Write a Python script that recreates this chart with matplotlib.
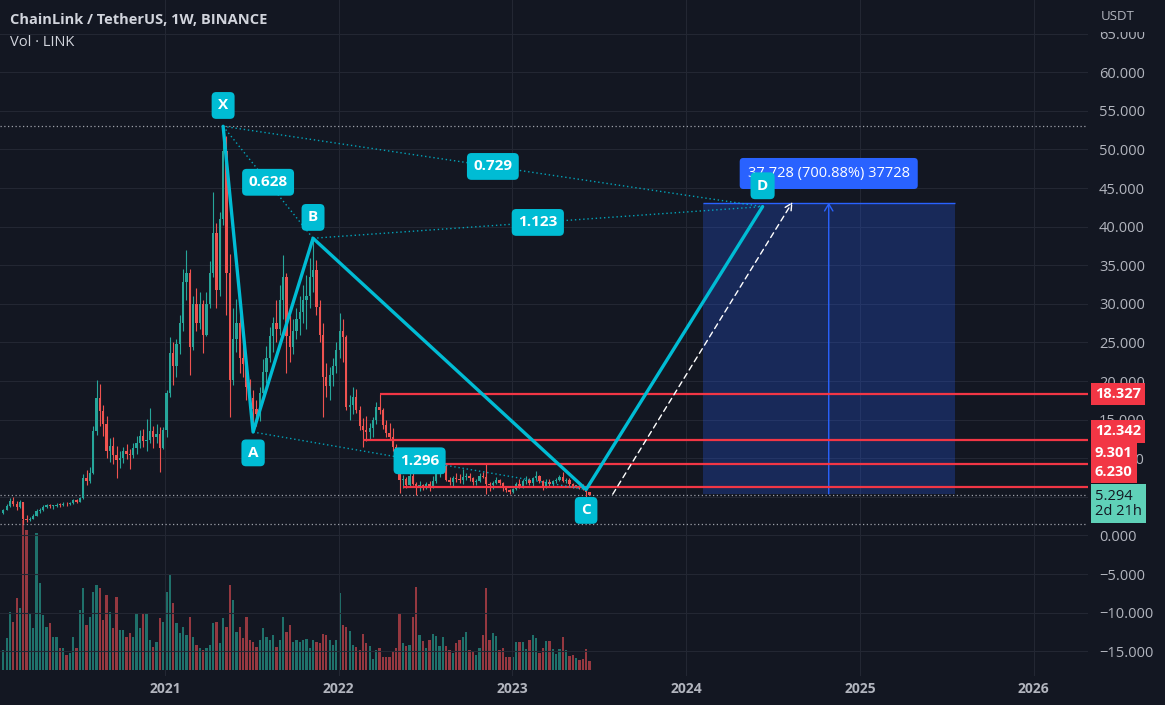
import matplotlib
matplotlib.use('Agg')
import matplotlib.pyplot as plt
import matplotlib.dates as mdates
from matplotlib.patches import Rectangle
from matplotlib.ticker import FuncFormatter
import numpy as np
import pandas as pd

plt.rcParams['font.family'] = ['Open Sans', 'DejaVu Sans']

# weekly LINK/USDT candles (open = previous close)
week_start = '2020-01-27'
first_open = 2.90
closes = [3.35, 3.85, 4.50, 4.10, 3.70, 4.30, 2.20, 1.95, 2.20, 2.55,
          3.15, 3.30, 3.75, 3.90, 3.85, 3.85, 4.00, 3.95, 4.10, 4.05,
          4.15, 4.55, 4.35, 4.80, 7.40, 7.10, 8.10, 13.50, 17.80, 16.10,
          14.40, 11.00, 11.60, 10.40, 9.80, 10.10, 10.90, 10.60, 10.40, 11.30,
          12.00, 12.90, 12.20, 12.40, 13.50, 12.70, 13.20, 11.30, 13.60, 18.50,
          23.70, 22.00, 24.80, 27.50, 32.80, 34.00, 24.40, 30.00, 27.50, 30.00,
          26.00, 30.00, 34.00, 39.20, 31.80, 41.00, 49.80, 34.00, 20.20, 25.50,
          27.50, 23.00, 22.20, 19.20, 17.80, 16.40, 15.80, 18.50, 21.20, 23.00,
          25.80, 27.50, 26.80, 30.50, 33.50, 25.80, 24.40, 26.50, 28.00, 29.00,
          30.50, 31.00, 33.50, 34.40, 29.60, 26.00, 20.50, 19.30, 20.80, 21.90,
          24.00, 26.50, 25.70, 16.70, 16.90, 18.00, 16.30, 14.20, 13.60, 13.40,
          13.90, 15.00, 16.70, 16.20, 14.30, 13.30, 12.80, 11.50, 9.30, 7.20,
          7.30, 6.50, 7.70, 6.70, 6.30, 6.60, 6.40, 6.70, 6.30, 7.10,
          7.90, 8.40, 9.00, 7.20, 6.90, 7.40, 7.30, 7.20, 7.60, 7.70,
          7.50, 6.90, 7.00, 7.70, 7.60, 6.70, 6.50, 6.80, 7.20, 6.80,
          6.20, 5.90, 5.60, 6.00, 6.70, 6.40, 7.00, 7.20, 6.80, 7.40,
          7.70, 7.00, 6.40, 6.90, 6.70, 7.00, 7.20, 7.60, 7.00, 7.20,
          6.70, 6.40, 6.45, 6.20, 6.00, 5.60, 5.294]
highs = [3.45, 4.05, 4.80, 4.95, 4.45, 4.60, 4.40, 2.60, 2.45, 2.75,
         3.45, 3.55, 3.90, 4.10, 4.10, 4.00, 4.20, 4.15, 4.30, 4.30,
         4.40, 4.70, 4.75, 4.95, 8.00, 8.50, 8.90, 14.20, 20.10, 19.60,
         16.90, 15.50, 12.60, 12.80, 11.60, 10.90, 11.50, 11.90, 11.20, 12.00,
         12.90, 13.60, 13.80, 15.10, 16.50, 14.20, 14.50, 14.00, 14.00, 18.80,
         25.70, 25.00, 25.50, 28.50, 34.50, 37.00, 34.50, 31.00, 32.10, 31.50,
         30.50, 31.50, 35.50, 44.50, 40.50, 41.90, 53.00, 51.80, 36.50, 29.50,
         30.60, 28.50, 25.30, 22.50, 20.30, 18.80, 17.50, 19.20, 22.80, 24.50,
         27.00, 28.30, 30.50, 32.50, 36.30, 34.00, 28.50, 28.00, 29.50, 31.00,
         32.50, 33.80, 36.00, 38.30, 35.70, 30.50, 27.50, 22.40, 21.80, 23.00,
         25.00, 28.80, 28.00, 26.00, 18.20, 19.20, 19.00, 16.80, 15.20, 15.50,
         14.60, 15.30, 17.30, 18.33, 16.50, 14.90, 14.60, 13.90, 11.80, 9.50,
         7.80, 7.60, 8.20, 8.60, 6.90, 7.00, 6.70, 6.90, 7.00, 7.70,
         8.40, 8.90, 9.50, 9.20, 7.60, 7.70, 8.10, 7.90, 8.60, 8.10,
         8.10, 7.60, 7.30, 8.10, 8.20, 9.40, 6.90, 7.00, 7.60, 7.30,
         6.90, 6.30, 6.00, 6.10, 6.90, 7.30, 7.30, 7.70, 7.40, 7.60,
         8.40, 7.80, 7.20, 7.30, 7.30, 7.20, 7.50, 7.80, 8.20, 7.50,
         7.40, 6.80, 6.60, 6.50, 6.70, 6.20, 5.65]
lows = [2.80, 3.25, 3.75, 3.80, 3.35, 3.60, 1.50, 1.75, 1.90, 2.15,
        2.50, 2.95, 3.20, 3.55, 3.55, 3.45, 3.75, 3.75, 3.85, 3.85,
        3.95, 4.10, 4.20, 4.30, 4.70, 6.60, 6.80, 8.00, 13.00, 14.20,
        12.90, 10.00, 9.50, 9.30, 7.40, 8.80, 9.40, 9.90, 8.60, 10.00,
        10.60, 11.30, 11.50, 10.90, 12.00, 11.30, 12.00, 8.20, 11.20, 12.80,
        18.00, 19.50, 20.50, 23.50, 26.50, 30.50, 20.80, 24.00, 26.50, 26.80,
        23.70, 25.80, 29.50, 33.50, 29.50, 31.00, 40.20, 28.50, 15.30, 19.50,
        23.80, 21.00, 20.50, 17.50, 16.40, 13.40, 14.20, 14.80, 17.80, 19.80,
        22.50, 23.80, 25.00, 26.00, 28.00, 21.00, 22.50, 23.50, 25.50, 26.00,
        27.50, 26.80, 29.50, 31.50, 28.50, 25.00, 15.40, 18.00, 17.50, 19.40,
        21.00, 23.00, 22.50, 16.30, 14.90, 15.70, 15.90, 13.70, 11.50, 12.30,
        12.40, 12.80, 14.50, 15.80, 13.80, 12.80, 12.50, 10.90, 8.80, 5.50,
        6.20, 6.10, 6.40, 6.50, 5.30, 5.80, 5.90, 6.00, 5.80, 6.20,
        6.80, 7.60, 8.10, 7.00, 6.50, 6.40, 6.90, 6.80, 6.70, 7.20,
        7.10, 6.50, 6.60, 6.90, 7.40, 5.40, 5.80, 6.00, 6.70, 6.50,
        5.80, 5.60, 5.40, 5.50, 5.90, 6.10, 6.20, 6.70, 6.50, 6.40,
        7.20, 6.80, 5.90, 6.10, 6.40, 6.40, 6.80, 7.00, 6.90, 6.80,
        6.40, 6.10, 6.20, 6.00, 5.90, 5.00, 5.20]
# weekly volume, relative units
volumes = [20, 32, 58, 48, 72, 62, 150, 140, 57, 42,
           137, 87, 55, 43, 47, 33, 33, 22, 22, 15,
           17, 33, 22, 60, 82, 45, 53, 78, 85, 82,
           50, 75, 58, 42, 73, 40, 40, 33, 37, 33,
           57, 42, 57, 57, 30, 23, 28, 52, 48, 78,
           95, 67, 47, 37, 43, 35, 53, 33, 25, 22,
           20, 22, 25, 47, 48, 27, 52, 43, 85, 70,
           38, 43, 32, 53, 30, 28, 23, 30, 42, 33,
           30, 35, 23, 30, 53, 38, 45, 28, 30, 28,
           30, 31, 22, 30, 28, 27, 36, 35, 30, 25,
           30, 77, 45, 43, 39, 25, 23, 20, 36, 27,
           24, 11, 20, 22, 13, 13, 13, 18, 22, 57,
           27, 24, 25, 53, 83, 35, 29, 22, 30, 36,
           34, 24, 33, 24, 20, 17, 27, 30, 33, 38,
           20, 19, 15, 22, 35, 82, 30, 37, 34, 20,
           22, 13, 13, 13, 28, 28, 28, 21, 30, 35,
           32, 17, 22, 29, 29, 21, 16, 21, 33, 20,
           14, 15, 12, 10, 11, 21, 9]

# XABCD pattern
pattern_names = ['X', 'A', 'B', 'C', 'D']
pattern_dates = ['2021-05-03', '2021-07-05', '2021-11-08', '2023-06-05', '2024-06-10']
pattern_prices = [53.0, 13.4, 38.5, 5.95, 42.6]
ratio_pairs = [(0, 2), (1, 3), (0, 4), (2, 4)]
ratio_labels = ['0.628', '1.296', '0.729', '1.123']

levels = [18.327, 12.342, 9.301, 6.230]
level_starts = ['2022-03-28', '2022-02-21', '2022-05-09', '2022-05-16']
last_price = 5.294
countdown = '2d 21h'

range_dates = ['2024-02-05', '2025-07-19']
range_prices = [5.383, 43.111]
range_text = '37.728 (700.88%) 37728'
arrow_dates = ['2023-07-31', '2024-08-12']
arrow_prices = [5.35, 43.2]

years = [2021, 2022, 2023, 2024, 2025, 2026]

BG = '#131722'
GRID = '#232733'
TXT = '#b2b5be'
UP = '#26a69a'
DOWN = '#ef5350'
CYAN = '#00bcd4'
RED = '#f23645'
BLUE = '#2962ff'

W, H = 1165, 705
fig = plt.figure(figsize=(W / 100, H / 100), dpi=100, facecolor=BG)
ax = fig.add_axes([0, 29 / H, 1088 / W, 676 / H])
axv = ax.twinx()
ax.set_zorder(1)
axv.set_zorder(0)
ax.patch.set_visible(False)

weeks = pd.date_range(week_start, periods=len(closes), freq='7D')
opens = np.array([first_open] + closes[:-1])
c = np.array(closes)
colors = np.where(c >= opens, UP, DOWN)

# volume
vcolors = np.where(c >= opens, '#1f716b', '#953840')
axv.bar(weeks, volumes, width=4.8, color=vcolors, linewidth=0)
axv.set_ylim(-6, 670)
axv.set_yticks([])
for s in axv.spines.values():
    s.set_visible(False)

# candles
ax.vlines(weeks, lows, highs, colors=colors, lw=0.8, zorder=3)
ax.bar(weeks, np.maximum(np.abs(c - opens), 0.08), bottom=np.minimum(opens, c),
       width=4.8, color=colors, linewidth=0, zorder=3)

x0, x1 = pd.Timestamp('2020-01-20'), pd.Timestamp('2026-04-25')
ax.set_xlim(x0, x1)
ax.set_ylim(-18.2, 69.36)

# hi / lo / last dotted lines
for p in [max(highs), min(lows), last_price]:
    ax.axhline(p, color='#c0c3cc', lw=0.9, ls=(0, (1, 2)), alpha=0.8, zorder=2)

# price range box
rd = [mdates.date2num(pd.Timestamp(d)) for d in range_dates]
ax.add_patch(Rectangle((rd[0], range_prices[0]), rd[1] - rd[0], range_prices[1] - range_prices[0],
                       fc=BLUE, alpha=0.25, ec='none', zorder=2))
ax.hlines(range_prices[1], rd[0], rd[1], color=BLUE, lw=1, zorder=2)
mid = (rd[0] + rd[1]) / 2
ax.annotate('', xy=(mid, range_prices[1]), xytext=(mid, range_prices[0]),
            arrowprops=dict(arrowstyle='->,head_length=0.5,head_width=0.3', color=BLUE, lw=1,
                            shrinkA=0, shrinkB=0), zorder=2)
ax.annotate(range_text, xy=(mid, range_prices[1]), xytext=(0, 21), textcoords='offset points',
            ha='center', va='center', color='white', fontsize=10.5, zorder=7,
            bbox=dict(boxstyle='round,pad=0.55,rounding_size=0.25', fc=BLUE, ec='none'))

# support / resistance levels
for lv, st in zip(levels, level_starts):
    ax.hlines(lv, pd.Timestamp(st), x1, color=RED, lw=1.6, zorder=4)

# forecast arrow
ax.annotate('', xy=(pd.Timestamp(arrow_dates[1]), arrow_prices[1]),
            xytext=(pd.Timestamp(arrow_dates[0]), arrow_prices[0]),
            arrowprops=dict(arrowstyle='->,head_length=0.5,head_width=0.25', color='white',
                            lw=1, ls=(0, (4, 3)), shrinkA=0, shrinkB=0), zorder=5)

# XABCD
pd_dates = [pd.Timestamp(d) for d in pattern_dates]
pnum = [mdates.date2num(d) for d in pd_dates]
for (i, j), lab in zip(ratio_pairs, ratio_labels):
    ax.plot([pnum[i], pnum[j]], [pattern_prices[i], pattern_prices[j]], color=CYAN, lw=1,
            ls=(0, (1, 2)), alpha=0.85, zorder=5)
    ax.text((pnum[i] + pnum[j]) / 2, (pattern_prices[i] + pattern_prices[j]) / 2, lab,
            ha='center', va='center', color='white', fontsize=11, fontweight='bold', zorder=7,
            bbox=dict(boxstyle='round,pad=0.42,rounding_size=0.3', fc=CYAN, ec='none'))
ax.plot(pnum, pattern_prices, color=CYAN, lw=2.4, zorder=6, solid_joinstyle='round',
        solid_capstyle='round')
for k, (name, d, p) in enumerate(zip(pattern_names, pnum, pattern_prices)):
    dy = -15 if name in ('A', 'C') else 15
    ax.annotate(name, xy=(d, p), xytext=(0, dy), textcoords='offset points', ha='center',
                va='center', color='white', fontsize=11, fontweight='bold', zorder=8,
                bbox=dict(boxstyle='round,pad=0.42,rounding_size=0.3', fc=CYAN, ec='none'))

# axes styling
for s in ax.spines.values():
    s.set_visible(False)
ax.yaxis.tick_right()
ax.set_yticks(np.arange(-15, 70, 5))
ax.yaxis.set_major_formatter(FuncFormatter(lambda v, _: f'{v:.3f}'.replace('-', '\u2212')))
ax.tick_params(axis='y', length=0, pad=8, labelsize=10.5, labelcolor=TXT)
ax.set_xticks([pd.Timestamp(f'{y}-01-01') for y in years])
ax.set_xticklabels([str(y) for y in years], fontweight='bold')
ax.tick_params(axis='x', length=0, pad=4, labelsize=10, labelcolor=TXT)
ax.grid(True, color=GRID, lw=0.8)
ax.set_axisbelow(True)

# price labels on the scale
ytr = ax.get_yaxis_transform()
label_shift = [0, 6.5, 8, 11]
for lv, sh in zip(levels, label_shift):
    ax.annotate(f'{lv:.3f}', xy=(1.0, lv), xycoords=ytr, xytext=(5, sh),
                textcoords='offset points', ha='left', va='center', color='white',
                fontsize=10.5, fontweight='bold', zorder=9, annotation_clip=False,
                bbox=dict(boxstyle='square,pad=0.3', fc=RED, ec='none'))
ax.annotate(f'{last_price:.3f}\n{countdown}', xy=(1.0, last_price), xycoords=ytr,
            xytext=(5, -6.5), textcoords='offset points', ha='left', va='center',
            color='#131722', fontsize=10.5, linespacing=1.0, zorder=9, annotation_clip=False,
            bbox=dict(boxstyle='square,pad=0.3', fc='#5fd1b8', ec='none'))

# header
cover = Rectangle((1088 / W, 1 - 32 / H), 77 / W, 32 / H, transform=fig.transFigure,
                  fc=BG, ec='none', zorder=5)
fig.patches.append(cover)
fig.text(1101 / W, 1 - 16 / H, 'USDT', color=TXT, fontsize=9.5, va='center', zorder=6)
fig.text(10 / W, 1 - 20 / H, 'ChainLink / TetherUS, 1W, BINANCE', color='#d1d4dc',
         fontsize=10.5, fontweight='bold', va='center', zorder=6)
fig.text(10 / W, 1 - 42 / H, 'Vol \u00b7 LINK', color='#d1d4dc', fontsize=10.5,
         va='center', zorder=6)

fig.savefig('out.png', dpi=100, facecolor=BG)
